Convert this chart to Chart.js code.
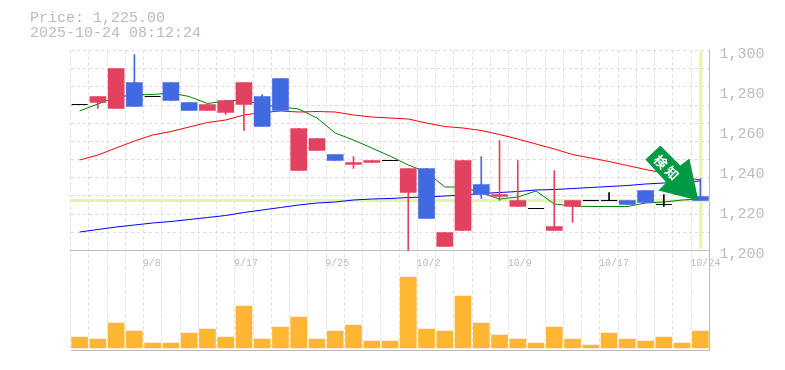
<!DOCTYPE html>
<html>
<head>
<meta charset="utf-8">
<script src="https://cdn.jsdelivr.net/npm/chart.js@4"></script>
<style>
    body { margin: 0; background: #fff; }
    canvas { display: block; }
</style>
</head>
<body>
<canvas id="myChart" width="785" height="370"></canvas>
<script>
const categorias = ['', '', '', '', '9/8', '', '', '', '', '9/17', '', '', '', '', '9/25', '', '', '', '', '10/2', '', '', '', '', '10/9', '', '', '', '', '10/17', '', '', '', '', '10/24'];

const abertura = [1273, 1274, 1271, 1284, 1277, 1284, 1274, 1270, 1269, 1273, 1277, 1286, 1240, 1250, 1248, 1243, 1244, 1245, 1229, 1241, 1202, 1210, 1233, 1227, 1222, 1221, 1210, 1222, 1225, 1225, 1225, 1230, 1223, 1228, 1227];
const fechamento = [1273, 1277, 1291, 1272, 1277, 1275, 1270, 1273, 1275, 1284, 1262, 1270, 1261, 1256, 1245, 1244, 1245, 1245, 1241, 1216, 1209, 1245, 1228, 1228, 1225, 1221, 1212, 1225, 1225, 1225, 1223, 1224, 1223, 1232, 1225];
const maximo = [1273, 1277, 1291, 1298, 1277, 1284, 1274, 1273, 1275, 1284, 1278, 1286, 1261, 1256, 1248, 1247, 1245, 1245, 1241, 1241, 1209, 1245, 1247, 1255, 1245, 1221, 1240, 1225, 1225, 1229, 1225, 1230, 1228, 1232, 1236];
const minimo = [1273, 1271, 1271, 1272, 1277, 1275, 1270, 1270, 1268, 1260, 1262, 1270, 1240, 1250, 1245, 1241, 1244, 1245, 1200, 1216, 1202, 1210, 1226, 1225, 1222, 1221, 1210, 1214, 1225, 1225, 1223, 1224, 1222, 1228, 1225];

const mediaCurta = [1269.75, 1273.25, 1276.75, 1277.75, 1278, 1278.75, 1277, 1273.5, 1274.75, 1275.25, 1272.75, 1271.75, 1270.75, 1266.25, 1258.75, 1255.25, 1251.25, 1247.25, 1242.75, 1239.25, 1231.75, 1231.75, 1228.75, 1225.75, 1226.75, 1229.75, 1223.25, 1222.25, 1222, 1222, 1222, 1223.75, 1224.25, 1225.25, 1225.75];
const mediaMedia = [1245.25, 1247.75, 1251.25, 1254.75, 1257.75, 1259.5, 1261.75, 1264, 1265.25, 1267.75, 1269, 1269.75, 1269.25, 1269.5, 1269.25, 1267.75, 1266.75, 1266.25, 1265.75, 1263.75, 1262, 1261.25, 1260, 1258, 1255.75, 1253.25, 1250.75, 1248, 1246.25, 1244.5, 1242.5, 1240.5, 1238.75, 1236.75, 1235.25];
const mediaLonga = [1209.25, 1210.5, 1211.75, 1212.75, 1213.75, 1214.5, 1215.5, 1216.5, 1217.5, 1219, 1220.25, 1221.5, 1222.75, 1223.75, 1224.25, 1225.25, 1225.75, 1226, 1226.5, 1226.75, 1227.25, 1227.75, 1228.5, 1229, 1229.5, 1230.25, 1230.5, 1231, 1231.5, 1232, 1232.5, 1233.25, 1233.75, 1234.25, 1234.75];

const volume = [1100, 900, 2500, 1700, 500, 500, 1500, 1900, 1100, 4200, 900, 2100, 3100, 900, 1700, 2300, 700, 700, 7100, 1900, 1700, 5200, 2500, 1300, 900, 500, 2100, 900, 300, 1500, 900, 700, 1100, 500, 1700];

const ticksPreco = [1300, 1280, 1260, 1240, 1220, 1200];
const ticksGrade = [1300, 1290.91, 1281.82, 1272.73, 1263.64, 1254.55, 1245.45, 1236.36, 1227.27, 1218.18, 1209.09, 1200, 1150];

const precoAtual = 1225;
const titulo = ['Price: 1,225.00', '2025-10-24 08:12:24'];
const textoSeta = ['検', '知'];

const VERMELHO = '#e2415f';
const AZUL = '#4169e1';
const CINZA = '#bbbbbb';
const GRADE = '#dddddd';
const DESTAQUE = '#e3f5ab';

function corVela(i) {
    if (abertura[i] === fechamento[i]) return '#000000';
    return fechamento[i] > abertura[i] ? VERMELHO : AZUL;
}

const indices = categorias.map((_, i) => i);

// Linhas de destaque ficam atras das velas, seta e titulo por cima
const desenhos = {
    id: 'desenhos',
    beforeDatasetsDraw(chart) {
        const { ctx, chartArea, scales } = chart;
        const yPreco = scales.y.getPixelForValue(precoAtual);
        const xUltimo = scales.x.getPixelForValue(categorias.length - 1);
        ctx.save();
        ctx.fillStyle = DESTAQUE;
        ctx.fillRect(chartArea.left, yPreco - 1.5, chartArea.width, 3);
        ctx.fillRect(xUltimo - 1, chartArea.top, 3, scales.y.getPixelForValue(1200) - chartArea.top - 2);
        ctx.restore();
    },
    afterDraw(chart) {
        const { ctx, scales } = chart;
        const px = scales.x.getPixelForValue(categorias.length - 1) - 2;
        const py = scales.y.getPixelForValue(precoAtual);

        ctx.save();
        ctx.fillStyle = '#009944';
        ctx.beginPath();
        ctx.moveTo(px, py);
        ctx.lineTo(px - 40, py - 10);
        ctx.lineTo(px - 32, py - 18);
        ctx.lineTo(px - 53, py - 41);
        ctx.lineTo(px - 38, py - 55);
        ctx.lineTo(px - 18, py - 35);
        ctx.lineTo(px - 9, py - 42);
        ctx.closePath();
        ctx.fill();

        ctx.fillStyle = '#ffffff';
        ctx.font = 'bold 13px "Noto Sans CJK JP"';
        ctx.textAlign = 'center';
        ctx.textBaseline = 'middle';
        ctx.translate(px - 32, py - 33);
        ctx.rotate(Math.PI / 4);
        ctx.fillText(textoSeta[0], -8, 0);
        ctx.fillText(textoSeta[1], 8, 0);
        ctx.restore();

        ctx.save();
        ctx.fillStyle = CINZA;
        ctx.font = '15px "Liberation Mono"';
        ctx.textAlign = 'left';
        ctx.textBaseline = 'middle';
        ctx.fillText(titulo[0], 30, 18);
        ctx.fillText(titulo[1], 30, 33);
        ctx.restore();
    }
};

new Chart(document.getElementById('myChart'), {
    data: {
        labels: categorias,
        datasets: [
            {
                type: 'line',
                data: mediaMedia,
                borderColor: '#ff0000',
                borderWidth: 1,
                pointRadius: 0,
                tension: 0,
                order: 10
            },
            {
                type: 'line',
                data: mediaLonga,
                borderColor: '#0000ff',
                borderWidth: 1,
                pointRadius: 0,
                tension: 0,
                order: 10
            },
            {
                type: 'line',
                data: mediaCurta,
                borderColor: '#008000',
                borderWidth: 1,
                pointRadius: 0,
                tension: 0,
                order: 10
            },
            {
                type: 'bar',
                data: indices.map((i) => [minimo[i], maximo[i]]),
                backgroundColor: indices.map(corVela),
                barThickness: 1,
                grouped: false,
                order: 5
            },
            {
                type: 'bar',
                data: indices.map((i) => abertura[i] === fechamento[i] ? null : [abertura[i], fechamento[i]]),
                backgroundColor: indices.map(corVela),
                barThickness: 16,
                grouped: false,
                order: 4
            },
            {
                type: 'line',
                data: indices.map((i) => abertura[i] === fechamento[i] ? abertura[i] : null),
                showLine: false,
                pointStyle: 'line',
                pointRadius: 8,
                pointBorderWidth: 1,
                pointBorderColor: '#000000',
                order: 3
            },
            {
                type: 'bar',
                data: volume,
                yAxisID: 'yVolume',
                backgroundColor: '#ffb733',
                barThickness: 16,
                grouped: false,
                order: 6
            }
        ]
    },
    options: {
        responsive: false,
        animation: false,
        layout: { padding: { left: 70.5, top: 50.5, bottom: 19.5, right: 0 } },
        plugins: {
            legend: { display: false },
            tooltip: { enabled: false }
        },
        scales: {
            x: {
                position: { y: 1200 },
                grid: { color: GRADE, offset: true, drawTicks: false },
                border: { color: CINZA, dash: [3, 3] },
                ticks: {
                    autoSkip: false,
                    maxRotation: 0,
                    align: 'start',
                    labelOffset: -10,
                    padding: 7,
                    color: CINZA,
                    font: { family: 'Liberation Mono', size: 10 }
                }
            },
            y: {
                position: 'right',
                min: 1150,
                max: 1300,
                afterBuildTicks: (scale) => { scale.ticks = ticksPreco.map((value) => ({ value })); },
                afterFit: (scale) => { scale.width = 75.5; },
                grid: { display: false, drawTicks: false },
                border: { color: CINZA },
                ticks: {
                    padding: 10,
                    labelOffset: 4,
                    color: CINZA,
                    font: { family: 'Liberation Mono', size: 15 },
                    callback: (v) => v.toLocaleString('en-US')
                }
            },
            yGrade: {
                position: 'left',
                min: 1150,
                max: 1300,
                afterBuildTicks: (scale) => { scale.ticks = ticksGrade.map((value) => ({ value })); },
                afterFit: (scale) => { scale.width = 0; },
                grid: {
                    drawTicks: false,
                    color: (ctx) => ctx.tick && ctx.tick.value <= 1200 ? CINZA : GRADE
                },
                border: {
                    display: false,
                    dash: (ctx) => ctx.tick && ctx.tick.value <= 1200 ? [] : [3, 3]
                },
                ticks: { display: false }
            },
            yVolume: {
                display: false,
                min: -250,
                max: 29750
            }
        }
    },
    plugins: [desenhos]
});
</script>
</body>
</html>
